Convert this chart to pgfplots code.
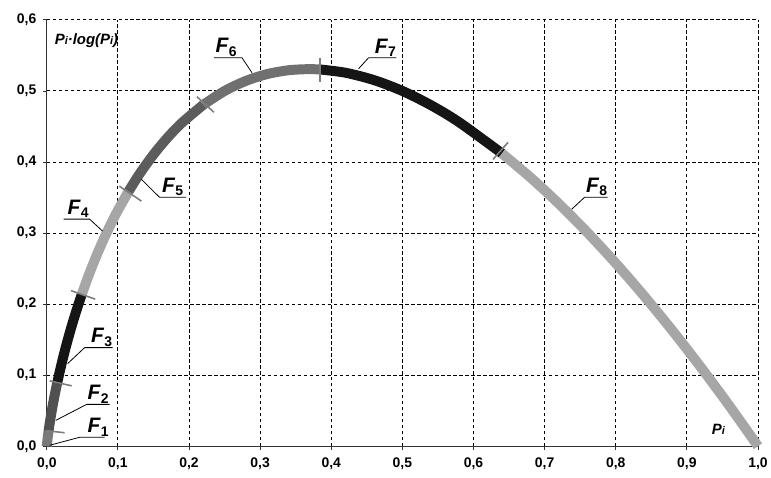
\documentclass[border=0pt]{standalone}
\usepackage{pgfplots}
\pgfplotsset{compat=1.18}
\usepackage{fontspec}
\setmainfont{Liberation Sans}
\definecolor{cF1}{HTML}{7A7A7A}
\definecolor{cF2}{HTML}{505050}
\definecolor{cF3}{HTML}{151515}
\definecolor{cF4}{HTML}{A6A6A6}
\definecolor{cF5}{HTML}{5C5C5C}
\definecolor{cF6}{HTML}{707070}
\definecolor{cF7}{HTML}{151515}
\definecolor{cF8}{HTML}{A6A6A6}
\definecolor{tickc}{HTML}{7E7E7E}
\newcommand{\FL}[1]{\fontsize{21}{24}\selectfont\bfseries\itshape F\kern0.5pt\raisebox{-0.32ex}{\fontsize{14}{14}\selectfont\upshape\bfseries #1}}
\begin{document}
\begin{tikzpicture}
\begin{axis}[
  scale only axis,
  width=714pt, height=428pt,
  xmin=0, xmax=1, ymin=0, ymax=0.6,
  xtick={0,0.1,...,1.0}, ytick={0,0.1,...,0.6},
  axis x line*=bottom, axis y line*=left,
  axis line style={line width=1pt, black!80},
  grid=major,
  major grid style={black, line width=1pt, dash pattern=on 3.5pt off 2.5pt},
  tick align=outside, major tick length=4pt,
  tick style={black!80, line width=0.9pt},
  clip=false,
  /pgf/number format/.cd, use comma, fixed, fixed zerofill, precision=1, assume math mode=true,
  /pgfplots/.cd,
  ticklabel style={font=\fontsize{14}{16}\selectfont\bfseries},
  xticklabel style={yshift=-4pt},
  yticklabel style={xshift=-3pt},
]
% curve segments
\addplot[cF1, line width=10pt, smooth] coordinates {(0,0) (0.0005,0.005483) (0.001,0.009966) (0.0015,0.014071) (0.0024,0.020887)};
\addplot[cF2, line width=10pt, smooth] coordinates {(0.0024,0.020887) (0.004,0.031863) (0.006,0.044285) (0.008,0.055726) (0.010,0.066439) (0.012,0.076570) (0.0144,0.088096)};
\addplot[cF3, line width=10pt, smooth] coordinates {(0.0144,0.088096) (0.018,0.104326) (0.022,0.121141) (0.026,0.136903) (0.030,0.151768) (0.035,0.169278) (0.040,0.185756) (0.045,0.201326) (0.049,0.213209)};
\addplot[cF4, line width=10pt, smooth] coordinates {(0.049,0.213209) (0.055,0.230148) (0.060,0.243534) (0.070,0.268555) (0.080,0.291512) (0.090,0.312651) (0.100,0.332193) (0.115,0.358835)};
\addplot[cF5, line width=10pt, smooth] coordinates {(0.115,0.358835) (0.13,0.382645) (0.15,0.410545) (0.17,0.434587) (0.19,0.455226) (0.22,0.480575)};
\addplot[cF6, line width=10pt, smooth] coordinates {(0.22,0.480575) (0.25,0.5) (0.28,0.514220) (0.31,0.523795) (0.34,0.529174) (0.368,0.530738) (0.385,0.530172)};
\addplot[cF7, line width=10pt, smooth] coordinates {(0.385,0.530172) (0.42,0.525646) (0.46,0.515335) (0.50,0.5) (0.54,0.480043) (0.58,0.455808) (0.64,0.412068)};
\addplot[cF8, line width=10pt, smooth] coordinates {(0.64,0.412068) (0.68,0.378347) (0.72,0.341230) (0.76,0.300905) (0.80,0.257542) (0.84,0.211293) (0.88,0.162294) (0.92,0.110671) (0.96,0.056538) (1.0,0)};
% boundary ticks
\addplot[tickc, line width=1.6pt] coordinates {(-0.002,0.022) (0.025,0.019)};
\addplot[tickc, line width=1.6pt] coordinates {(0.004,0.092) (0.035,0.085)};
\addplot[tickc, line width=1.6pt] coordinates {(0.034,0.219) (0.068,0.207)};
\addplot[tickc, line width=1.6pt] coordinates {(0.102,0.366) (0.133,0.345)};
\addplot[tickc, line width=1.6pt] coordinates {(0.211,0.492) (0.235,0.470)};
\addplot[tickc, line width=1.6pt] coordinates {(0.384,0.547) (0.384,0.513)};
\addplot[tickc, line width=1.6pt] coordinates {(0.6275,0.4037) (0.6485,0.4276)};
% leader lines
\addplot[black, line width=0.8pt] coordinates {(0.0042,0.0014) (0.0462,0.0126) (0.0812,0.0126)};
\addplot[black, line width=0.8pt] coordinates {(0.0126,0.0364) (0.056,0.0589) (0.0882,0.0589)};
\addplot[black, line width=0.8pt] coordinates {(0.0294,0.1164) (0.0532,0.1388) (0.0924,0.1388)};
\addplot[black, line width=0.8pt] coordinates {(0.0238,0.3196) (0.0602,0.3196) (0.0784,0.3028)};
\addplot[black, line width=0.8pt] coordinates {(0.133,0.3757) (0.1583,0.3505) (0.196,0.3505)};
\addplot[black, line width=0.8pt] coordinates {(0.2353,0.5467) (0.2745,0.5467) (0.2885,0.5257)};
\addplot[black, line width=0.8pt] coordinates {(0.4916,0.5467) (0.4524,0.5467) (0.4384,0.5313)};
\addplot[black, line width=0.8pt] coordinates {(0.7885,0.3505) (0.7563,0.3505) (0.7381,0.3336)};
% labels
\node[anchor=south west, inner sep=0pt, yshift=1pt] at (axis cs:0.057,0.0126) {\FL{1}};
\node[anchor=south west, inner sep=0pt, yshift=1pt] at (axis cs:0.057,0.0589) {\FL{2}};
\node[anchor=south west, inner sep=0pt, yshift=1pt] at (axis cs:0.062,0.1388) {\FL{3}};
\node[anchor=south west, inner sep=0pt, yshift=1pt] at (axis cs:0.029,0.3196) {\FL{4}};
\node[anchor=south west, inner sep=0pt, yshift=1pt] at (axis cs:0.162,0.3505) {\FL{5}};
\node[anchor=south west, inner sep=0pt, yshift=1pt] at (axis cs:0.237,0.5467) {\FL{6}};
\node[anchor=south west, inner sep=0pt, yshift=1pt] at (axis cs:0.461,0.5467) {\FL{7}};
\node[anchor=south west, inner sep=0pt, yshift=1pt] at (axis cs:0.758,0.3505) {\FL{8}};
\node[anchor=west, inner sep=0pt] at (axis cs:0.011,0.571) {\fontsize{15}{17}\selectfont\bfseries\itshape P{\fontsize{11}{11}\selectfont i}·log(P{\fontsize{11}{11}\selectfont i})};
\node[anchor=west, inner sep=0pt] at (axis cs:0.935,0.024) {\fontsize{15}{17}\selectfont\bfseries\itshape P{\fontsize{11}{11}\selectfont i}};
\coordinate (o) at (rel axis cs:0,0);
\coordinate (t) at (rel axis cs:1,1);
\end{axis}
\path ([shift={(-47pt,-31pt)}]o) rectangle ([shift={(10pt,20pt)}]t);
\end{tikzpicture}
\end{document}
